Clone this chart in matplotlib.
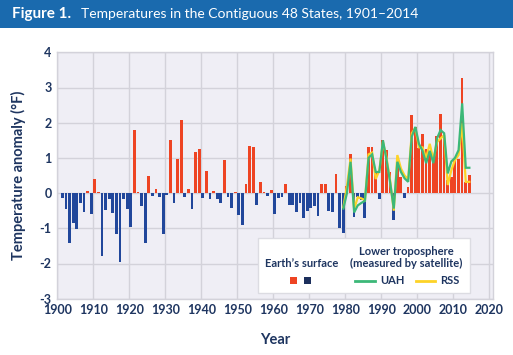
import matplotlib
matplotlib.use("Agg")
import matplotlib.pyplot as plt
from matplotlib.lines import Line2D
from matplotlib.patches import Rectangle
import numpy as np

years = list(range(1901, 2015))
surface = [
    -0.15, -0.44, -1.41, -0.86, -1.02, -0.28, -0.54, 0.06, -0.59, 0.40,   # 1901-1910
    0.03, -1.79, -0.48, -0.18, -0.57, -1.16, -1.97, -0.16, -0.46, -0.96,  # 1911-1920
    1.78, 0.02, -0.38, -1.43, 0.50, -0.08, 0.13, -0.10, -1.17, -0.05,     # 1921-1930
    1.52, -0.29, 0.98, 2.07, -0.12, 0.13, -0.46, 1.16, 1.25, -0.13,       # 1931-1940
    0.63, -0.18, 0.06, -0.18, -0.27, 0.93, -0.10, -0.42, 0.02, -0.63,     # 1941-1950
    -0.90, 0.25, 1.35, 1.31, -0.33, 0.32, 0.02, -0.09, 0.09, -0.58,       # 1951-1960
    -0.15, -0.11, 0.25, -0.35, -0.33, -0.53, -0.27, -0.70, -0.52, -0.42,  # 1961-1970
    -0.36, -0.65, 0.27, 0.25, -0.51, -0.55, 0.54, -0.98, -1.14, 0.20,     # 1971-1980
    1.10, -0.67, -0.10, -0.20, -0.72, 1.30, 1.32, 0.60, -0.18, 1.50,      # 1981-1990
    1.22, 0.60, -0.77, 0.84, 0.46, -0.13, 0.18, 2.21, 1.87, 1.27,         # 1991-2000
    1.68, 1.25, 1.16, 0.96, 1.63, 2.24, 1.60, 0.37, 0.46, 0.94,           # 2001-2010
    0.98, 3.26, 0.32, 0.51,                                               # 2011-2014
]

sat_years = list(range(1979, 2015))
uah = [
    -0.44, 0.00, 0.89, -0.55, -0.35, -0.28, -0.22, 1.00, 1.10, 0.60,      # 1979-1988
    0.60, 1.50, 0.94, 0.30, -0.44, 0.89, 0.60, 0.42, 0.32, 1.60,          # 1989-1998
    1.88, 1.40, 1.20, 0.85, 1.20, 0.85, 1.55, 1.79, 1.70, 0.56,           # 1999-2008
    0.90, 1.00, 1.22, 2.55, 0.72, 0.72,                                   # 2009-2014
]
rss = [
    -0.40, 0.20, 0.98, -0.45, -0.12, -0.15, -0.20, 1.10, 1.15, 0.40,      # 1979-1988
    0.65, 1.45, 1.00, 0.35, -0.50, 1.08, 0.70, 0.50, 0.40, 1.70,          # 1989-1998
    1.85, 1.30, 1.30, 1.00, 1.40, 0.95, 1.45, 1.55, 1.65, 0.23,           # 1999-2008
    0.65, 0.94, 1.08, 1.98, 0.32, 0.32,                                   # 2009-2014
]

xticks = list(range(1900, 2021, 10))
yticks = list(range(-3, 5))

RED = "#ee4423"
BLUE = "#21479b"
NAVY = "#1c2f5c"
GREEN = "#3cb878"
YELLOW = "#fdd327"
TEXT = "#1e3560"
HEADER = "#1a6aae"
PANEL = "#efeef5"
GRID = "#d3d2da"

plt.rcParams['font.family'] = ['Lato', 'DejaVu Sans']

fig = plt.figure(figsize=(5.13, 3.55), dpi=100)
fig.patch.set_facecolor("white")

def fx(px):
    return px / 513

def fy(py):
    return 1 - py / 355

# header band
fig.patches.append(Rectangle((0, fy(28)), 1, 28 / 355, transform=fig.transFigure,
                             facecolor=HEADER, edgecolor="none", zorder=0))
fig.text(fx(12), fy(14), "Figure 1.", color="white", fontsize=11,
         fontweight="bold", va="center", ha="left")
fig.text(fx(81), fy(14), "Temperatures in the Contiguous 48 States, 1901\u20132014",
         color="white", fontsize=10, va="center", ha="left")

ax = fig.add_axes([fx(57.3), fy(298.7), 436 / 513, (298.7 - 52.3) / 355])
ax.set_facecolor(PANEL)
ax.set_xlim(1900, 2021.1)
ax.set_ylim(-3, 4)

xs = np.array(years) + 0.4
vals = np.array(surface)
colors = [RED if v >= 0 else BLUE for v in vals]
ax.bar(xs, vals, width=0.78, color=colors, edgecolor="none", zorder=3)

sx = np.array(sat_years) + 0.45
ax.plot(sx, rss, color=YELLOW, lw=1.6, zorder=4, solid_joinstyle="miter")
ax.plot(sx, uah, color=GREEN, lw=1.6, zorder=5, solid_joinstyle="miter")

ax.set_xticks(xticks)
ax.set_yticks(yticks)
ax.set_xticklabels([str(t) for t in xticks])
ax.set_yticklabels([str(t) for t in yticks])
ax.grid(True, color=GRID, lw=1.0, zorder=1)
ax.tick_params(length=0, labelsize=9, labelcolor=TEXT, pad=4)
for lab in ax.get_xticklabels() + ax.get_yticklabels():
    lab.set_fontweight("bold")
for s in ax.spines.values():
    s.set_color(GRID)
    s.set_linewidth(1.0)

ax.set_xlabel("Year", fontsize=10.5, fontweight="bold", color=TEXT, labelpad=12)
ax.set_ylabel("Temperature anomaly (\u00b0F)", fontsize=10.5, fontweight="bold",
              color=TEXT, labelpad=10)

# legend box
lx0, ly0, lx1, ly1 = 258, 237.7, 470, 293
fig.patches.append(Rectangle((fx(lx0), fy(ly1)), fx(lx1) - fx(lx0), fy(ly0) - fy(ly1),
                             transform=fig.transFigure, facecolor="white",
                             edgecolor="#dcdce2", lw=1.0, zorder=10))
LFS = 8
fig.text(fx(301.5), fy(263.5), "Earth\u2019s surface", fontsize=LFS, fontweight="bold",
         color=TEXT, ha="center", va="center", zorder=11)
fig.patches.append(Rectangle((fx(289.5), fy(284)), 7.5 / 513, 7.5 / 355,
                             transform=fig.transFigure, facecolor=RED, edgecolor="none", zorder=11))
fig.patches.append(Rectangle((fx(303.5), fy(284)), 7.5 / 513, 7.5 / 355,
                             transform=fig.transFigure, facecolor=NAVY, edgecolor="none", zorder=11))
fig.text(fx(406.5), fy(251.5), "Lower troposphere", fontsize=LFS, fontweight="bold",
         color=TEXT, ha="center", va="center", zorder=11)
fig.text(fx(406.5), fy(263.5), "(measured by satellite)", fontsize=LFS, fontweight="bold",
         color=TEXT, ha="center", va="center", zorder=11)
fig.lines.append(Line2D([fx(355), fx(375)], [fy(280.5), fy(280.5)], transform=fig.transFigure,
                        color=GREEN, lw=2, zorder=11))
fig.text(fx(380), fy(280.5), "UAH", fontsize=LFS, fontweight="bold", color=TEXT,
         ha="left", va="center", zorder=11)
fig.lines.append(Line2D([fx(415.5), fx(435)], [fy(280.5), fy(280.5)], transform=fig.transFigure,
                        color=YELLOW, lw=2, zorder=11))
fig.text(fx(440), fy(280.5), "RSS", fontsize=LFS, fontweight="bold", color=TEXT,
         ha="left", va="center", zorder=11)

fig.savefig("out.png", dpi=100, facecolor=fig.get_facecolor())
